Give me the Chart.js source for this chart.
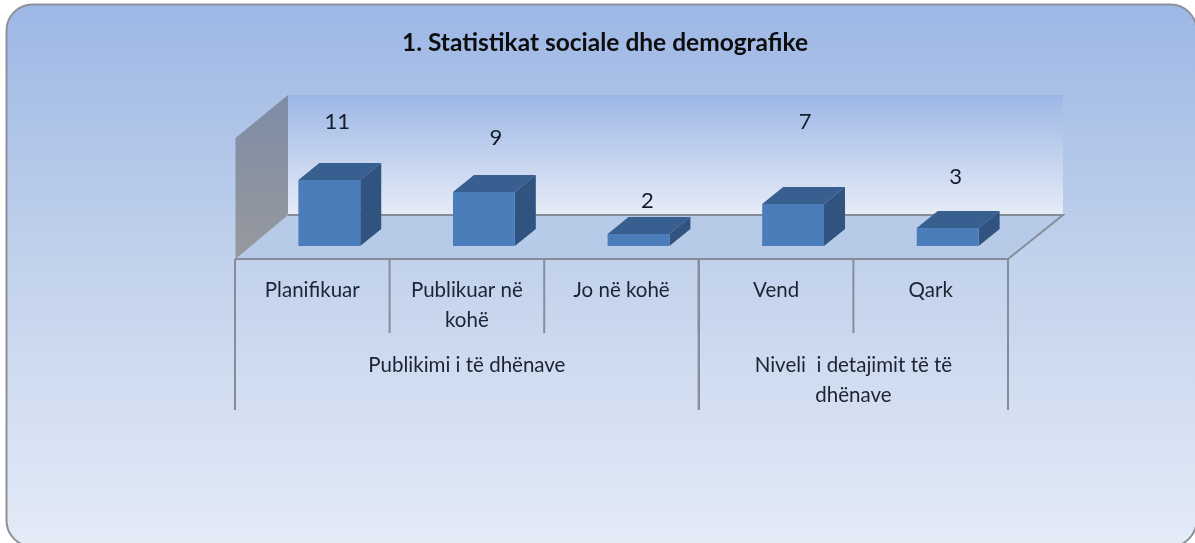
<!DOCTYPE html>
<html>
<head>
<meta charset="utf-8">
<style>html,body{margin:0;padding:0;background:#fff;overflow:hidden}canvas{display:block}</style>
<script src="https://cdn.jsdelivr.net/npm/chart.js@4"></script>
</head>
<body>
<canvas id="c" width="1195" height="543"></canvas>
<script>
const categories = ["Planifikuar", ["Publikuar në", "kohë"], "Jo në kohë", "Vend", "Qark"];
const values = [11, 9, 2, 7, 3];
const groups = [
  { lines: ["Publikimi i të dhënave"], from: 0, to: 2 },
  { lines: ["Niveli  i detajimit të të", "dhënave"], from: 3, to: 4 }
];
const chartTitle = "1. Statistikat sociale dhe demografike";
const labelLift = [58, 54, 33, 82, 51];
const labelShift = [8, 12, 9, 12, 8];

const FONT = 'Lato, "Open Sans", sans-serif';
const DEPTH_X = 21, DEPTH_Y = 17, SHIFT = 17;

const scene = {
  id: 'scene',
  beforeDraw(chart) {
    const c = chart.ctx;
    c.save();
    c.clearRect(0, 0, chart.width, chart.height);
    const g = c.createLinearGradient(0, 4, 0, 543);
    g.addColorStop(0, '#9db7e5');
    g.addColorStop(0.5, '#c3d3ec');
    g.addColorStop(1, '#e4ebf7');
    c.beginPath();
    c.roundRect(6.5, 4.5, 1190, 542, 26);
    c.fillStyle = g;
    c.fill();
    c.lineWidth = 2;
    c.strokeStyle = '#8b9099';
    c.stroke();

    const x0 = 235.5, x1 = 1008, back = 288, backR = 1063, topY = 95, floorB = 215, floorF = 259;
    const w = c.createLinearGradient(0, topY, 0, floorB);
    w.addColorStop(0, '#9db7e5');
    w.addColorStop(1, '#e6ecf7');
    c.fillStyle = w;
    c.fillRect(back, topY, backR - back, floorB - topY);
    c.fillStyle = '#b7cbe9';
    c.beginPath();
    c.moveTo(x0, floorF); c.lineTo(back, floorB); c.lineTo(backR, floorB); c.lineTo(x1, floorF);
    c.closePath(); c.fill();
    c.strokeStyle = '#868d99';
    c.lineWidth = 2;
    c.beginPath();
    c.moveTo(back, floorB); c.lineTo(backR, floorB); c.lineTo(x1, floorF);
    c.stroke();
    const s = c.createLinearGradient(0, topY, 0, floorF);
    s.addColorStop(0, '#7d8ca6');
    s.addColorStop(1, '#97999d');
    c.fillStyle = s;
    c.beginPath();
    c.moveTo(x0, 138); c.lineTo(back, topY); c.lineTo(back, floorB); c.lineTo(x0, floorF);
    c.closePath(); c.fill();

    c.fillStyle = '#0d0d0d';
    c.font = 'bold 24.5px ' + FONT;
    c.textAlign = 'center'; c.textBaseline = 'middle';
    c.fillText(chartTitle, 605, 43);
    c.restore();
  },
  beforeDatasetsDraw(chart) {
    const c = chart.ctx, bars = chart.getDatasetMeta(0).data;
    c.save();
    bars.forEach(b => {
      const l = b.x - b.width / 2 + SHIFT, r = b.x + b.width / 2 + SHIFT, t = b.y, u = b.base;
      c.fillStyle = '#375f8f';
      c.beginPath();
      c.moveTo(l, t); c.lineTo(l + DEPTH_X, t - DEPTH_Y); c.lineTo(r + DEPTH_X, t - DEPTH_Y); c.lineTo(r, t);
      c.closePath(); c.fill();
      c.fillStyle = '#30547f';
      c.beginPath();
      c.moveTo(r, t); c.lineTo(r + DEPTH_X, t - DEPTH_Y); c.lineTo(r + DEPTH_X, u - DEPTH_Y); c.lineTo(r, u);
      c.closePath(); c.fill();
    });
    c.translate(SHIFT, 0);
  },
  afterDatasetsDraw(chart) {
    const c = chart.ctx, x = chart.scales.x;
    c.restore();
    const half = (x.getPixelForValue(1) - x.getPixelForValue(0)) / 2;
    c.save();
    c.strokeStyle = '#868d99';
    c.lineWidth = 2;
    const line = (a, b, d, e) => { c.beginPath(); c.moveTo(a, b); c.lineTo(d, e); c.stroke(); };
    const yF = 259;
    line(x.left, yF, x.right, yF);
    values.forEach((_, i) => {
      const px = x.getPixelForValue(i) - half;
      if (i > 0) line(px, yF, px, 333);
    });
    groups.forEach(gr => {
      const a = x.getPixelForValue(gr.from) - half, b = x.getPixelForValue(gr.to) + half;
      line(a, yF, a, 410); line(b, yF, b, 410);
      c.fillStyle = '#1b2433';
      c.font = '20.5px ' + FONT;
      c.textAlign = 'center'; c.textBaseline = 'middle';
      gr.lines.forEach((t, j) => c.fillText(t, (a + b) / 2, 365 + j * 30));
    });
    c.font = '22px ' + FONT;
    c.fillStyle = '#141b2b';
    chart.getDatasetMeta(0).data.forEach((b, i) => {
      c.fillText(String(values[i]), b.x + SHIFT + labelShift[i], b.y - labelLift[i]);
    });
    c.restore();
  }
};

new Chart(document.getElementById('c'), {
  type: 'bar',
  data: {
    labels: categories,
    datasets: [{
      data: values,
      backgroundColor: '#4a7dba',
      borderWidth: 0,
      categoryPercentage: 1,
      barPercentage: 0.4
    }]
  },
  plugins: [scene],
  options: {
    responsive: false,
    animation: false,
    events: [],
    layout: { padding: { left: 235, right: 187, top: 126, bottom: 197 } },
    plugins: {
      legend: { display: false },
      tooltip: { enabled: false },
      title: { display: false }
    },
    scales: {
      x: {
        grid: { display: false, drawTicks: false },
        border: { display: false },
        ticks: {
          color: '#1b2433',
          font: { family: FONT, size: 20.5, lineHeight: 1.46 },
          maxRotation: 0,
          autoSkip: false,
          padding: 29
        },
        afterFit(s) { s.height = 100; }
      },
      y: {
        display: false,
        min: 0,
        max: 20,
        afterFit(s) { s.width = 0; }
      }
    }
  }
});
</script>
</body>
</html>
